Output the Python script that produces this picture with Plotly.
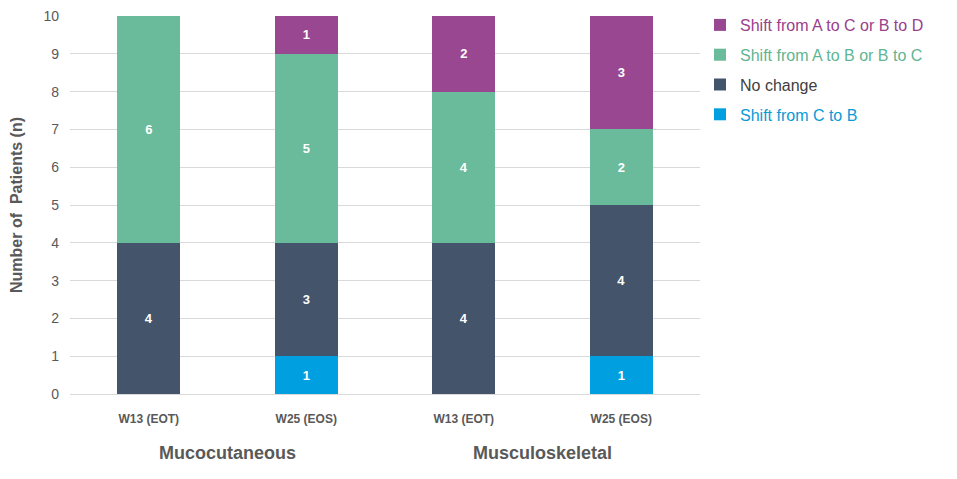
import plotly.graph_objects as go

categories = ["W13 (EOT)", "W25 (EOS)", "W13 (EOT)", "W25 (EOS)"]
groups = ["Mucocutaneous", "Musculoskeletal"]
shift_c_to_b = [0, 1, 0, 1]
no_change = [4, 3, 4, 4]
shift_ab_bc = [6, 5, 4, 2]
shift_ac_bd = [0, 1, 2, 3]

series = [
    ("Shift from C to B", shift_c_to_b, "#009FDF", "#0A9AD6", 4),
    ("No change", no_change, "#44546A", "#404040", 3),
    ("Shift from A to B or B to C", shift_ab_bc, "#69BB9B", "#5FB592", 2),
    ("Shift from A to C or B to D", shift_ac_bd, "#9A4791", "#9A3E8E", 1),
]

xpos = list(range(len(categories)))

fig = go.Figure()
for i, (name, vals, col, tcol, rank) in enumerate(series):
    fig.add_trace(go.Bar(
        x=xpos, y=vals, width=0.4,
        name=f"<span style='color:{tcol}'>{name}</span>",
        marker=dict(color=col, line=dict(width=0)),
        text=[f"<b>{v}</b>" if v else "" for v in vals],
        textposition="inside", insidetextanchor="middle",
        textfont=dict(color="white", size=13, family="Liberation Sans, Arial"),
        legendgroup=f"g{i}", legendrank=rank,
    ))

H = 471
fig.update_layout(
    barmode="stack",
    width=949, height=H,
    margin=dict(l=62, r=257, t=8, b=85, autoexpand=False),
    plot_bgcolor="white", paper_bgcolor="white",
    font=dict(family="Liberation Sans, Arial", color="#595959"),
    showlegend=True,
    legend=dict(
        x=1.0, y=1.0, xanchor="left", yanchor="top",
        yref="container",
        traceorder="grouped", tracegroupgap=6,
        font=dict(size=16), itemwidth=30,
    ),
    uniformtext=dict(minsize=8, mode="show"),
)
fig.update_xaxes(
    range=[-0.5, 3.5], tickvals=xpos, ticktext=[f"<b>{c}</b>" for c in categories],
    tickfont=dict(size=12, color="#595959"), showgrid=False, zeroline=False,
    showline=False, ticks="", ticklabelstandoff=16,
)
fig.update_yaxes(
    range=[0, 10.0001], dtick=1, showgrid=True, gridcolor="#D9D9D9", gridwidth=1,
    zeroline=True, zerolinecolor="#D9D9D9", zerolinewidth=1,
    tickfont=dict(size=14, color="#595959"), ticks="", ticklabelstandoff=10,
    ticklabeloverflow="allow",
    title=dict(text="<b>Number of  Patients (n)</b>", font=dict(size=16, color="#595959"), standoff=16),
)
for gi, g in enumerate(groups):
    fig.add_annotation(
        x=2 * gi + 0.5, y=0, xref="x", yref="paper", yshift=-71,
        text=f"<b>{g}</b>", showarrow=False,
        font=dict(size=18, color="#595959"),
    )

fig.write_html("out.html")
